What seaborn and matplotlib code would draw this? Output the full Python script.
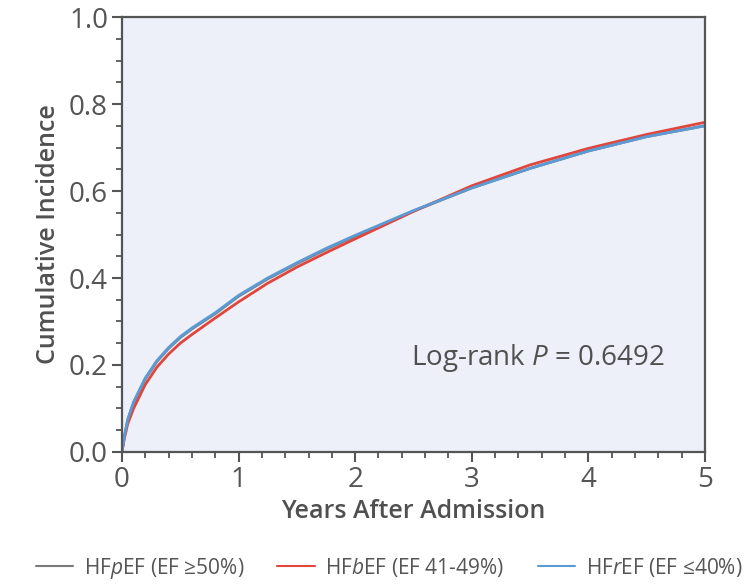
import numpy as np
import pandas as pd
import matplotlib
matplotlib.use("Agg")
import matplotlib.pyplot as plt
from matplotlib.ticker import MultipleLocator
from matplotlib.lines import Line2D
import seaborn as sns

years = [0, 0.02, 0.05, 0.1, 0.2, 0.3, 0.4, 0.5, 0.6, 0.8, 1.0, 1.25, 1.5, 1.75,
         2.0, 2.5, 3.0, 3.5, 4.0, 4.5, 5.0]
hfpef = [0, 0.034, 0.074, 0.113, 0.168, 0.208, 0.238, 0.263, 0.283, 0.318, 0.358,
         0.398, 0.433, 0.466, 0.496, 0.554, 0.607, 0.652, 0.692, 0.725, 0.750]
hfbef = [0, 0.03, 0.065, 0.10, 0.155, 0.195, 0.225, 0.25, 0.27, 0.308, 0.345,
         0.388, 0.425, 0.458, 0.490, 0.553, 0.612, 0.660, 0.698, 0.730, 0.758]
hfref = [0, 0.035, 0.075, 0.115, 0.17, 0.21, 0.24, 0.265, 0.285, 0.32, 0.36,
         0.40, 0.435, 0.468, 0.498, 0.555, 0.607, 0.652, 0.692, 0.725, 0.750]
groups = ["HFpEF", "HFbEF", "HFrEF"]
labels = ["HF$\\it{p}$EF (EF \u226550%)", "HF$\\it{b}$EF (EF 41-49%)", "HF$\\it{r}$EF (EF \u226440%)"]
colors = ["#7a7a7a", "#e0463c", "#5b9bd5"]

df = pd.concat([
    pd.DataFrame({"Years": years, "Incidence": vals, "Group": g})
    for g, vals in zip(groups, [hfpef, hfbef, hfref])
])

sns.set_theme(style="ticks")
plt.rcParams["font.family"] = ["Open Sans", "DejaVu Sans"]
plt.rcParams["mathtext.fontset"] = "custom"
plt.rcParams["mathtext.it"] = "Open Sans:italic"
plt.rcParams["mathtext.rm"] = "Open Sans"

fig = plt.figure(figsize=(7.48, 5.87), dpi=100)
ax = fig.add_axes([0.163, 0.23, 0.7795, 0.741])
ax.set_facecolor("#edf0f8")

sns.lineplot(data=df, x="Years", y="Incidence", hue="Group",
             palette=dict(zip(groups, colors)), hue_order=groups,
             linewidth=2.0, ax=ax, legend=False)

ax.set_xlim(0, 5)
ax.set_ylim(0, 1.0)
ax.set_xticks([0, 1, 2, 3, 4, 5])
ax.set_yticks([0.0, 0.2, 0.4, 0.6, 0.8, 1.0])
ax.set_yticklabels(["0.0", "0.2", "0.4", "0.6", "0.8", "1.0"])
ax.xaxis.set_minor_locator(MultipleLocator(0.2))
ax.yaxis.set_minor_locator(MultipleLocator(0.05))
ax.tick_params(which="major", length=7, width=1.5, color="#555555",
               labelsize=20, labelcolor="#555555", pad=3)
ax.tick_params(which="minor", length=4, width=1.3, color="#555555")
for s in ax.spines.values():
    s.set_color("#555555")
    s.set_linewidth(1.6)

ax.set_xlabel("Years After Admission", fontsize=18, color="#505050",
              fontweight="semibold", labelpad=4)
ax.set_ylabel("Cumulative Incidence", fontsize=18, color="#505050",
              fontweight="semibold", labelpad=6)

ax.text(0.495, 0.215, "Log-rank $\\it{P}$ = 0.6492", transform=ax.transAxes,
        fontsize=20, color="#505050", ha="left", va="center")

handles = [Line2D([0], [0], color=c, lw=1.5) for c in colors]
fig.legend(handles, labels, loc="center", bbox_to_anchor=(0.52, 0.032), ncol=3,
           frameon=False, fontsize=15, labelcolor="#555555",
           handlelength=1.8, handletextpad=0.5, columnspacing=1.6)

fig.savefig("out.png", dpi=100)
